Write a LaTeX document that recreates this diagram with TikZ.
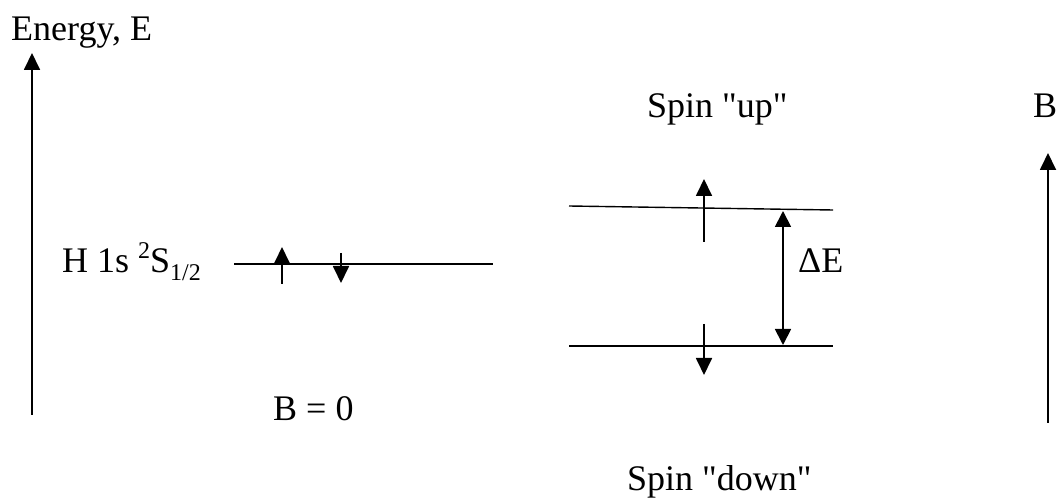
\documentclass[tikz,border=0pt]{standalone}
\usepackage{fontspec}
\setmainfont{Liberation Serif}
\usetikzlibrary{arrows.meta}
\begin{document}
\begin{tikzpicture}[x=1pt,y=-1pt,
  lvl/.style={line width=1.4pt},
  arr/.style={line width=1.8pt,-{Triangle[length=17pt,width=16pt]}},
  darr/.style={line width=1.8pt,{Triangle[length=16pt,width=16pt]}-{Triangle[length=16pt,width=16pt]}},
  lbl/.style={inner sep=0pt,anchor=base west,font=\fontsize{36}{42}\selectfont}]
\useasboundingbox (0,0) rectangle (1058,502);
% axes
\coordinate (e0) at (32,415); \coordinate (e1) at (32,53);
\draw[arr] (e0) -- (e1);
\node[lbl] (elab) at (11,41) {Energy, E};
\coordinate (b0) at (1048,423); \coordinate (b1) at (1048,153);
\draw[arr] (b0) -- (b1);
\node[lbl] (blab) at (1033,118) {B};
% B = 0 level
\node[lbl] (hlab) at (62,273) {H 1s \raisebox{0.4em}{\fontsize{24}{28}\selectfont 2}S\raisebox{-0.22em}{\fontsize{24}{28}\selectfont 1/2}};
\coordinate (l0a) at (234,264); \coordinate (l0b) at (493,264);
\draw[lvl] (l0a) -- (l0b);
\coordinate (u0a) at (282,284); \coordinate (u0b) at (282,247);
\draw[arr] (u0a) -- (u0b);
\coordinate (d0a) at (341,253); \coordinate (d0b) at (341,283);
\draw[arr] (d0a) -- (d0b);
\node[lbl] (bzero) at (273,421) {B = 0};
% split levels
\coordinate (ua) at (569,206); \coordinate (ub) at (833,210);
\draw[lvl] (ua) -- (ub);
\coordinate (da) at (569,346); \coordinate (db) at (833,346);
\draw[lvl] (da) -- (db);
\coordinate (u1a) at (704,242); \coordinate (u1b) at (704,179);
\draw[arr] (u1a) -- (u1b);
\coordinate (d1a) at (704,324); \coordinate (d1b) at (704,375);
\draw[arr] (d1a) -- (d1b);
\coordinate (de0) at (783,211); \coordinate (de1) at (783,345);
\draw[darr] (de0) -- (de1);
\node[lbl] (delab) at (798,273) {ΔE};
\node[lbl] (sup) at (647,118) {Spin \textquotedbl up\textquotedbl};
\node[lbl] (sdown) at (627,490) {Spin \textquotedbl down\textquotedbl};
\end{tikzpicture}
\end{document}
